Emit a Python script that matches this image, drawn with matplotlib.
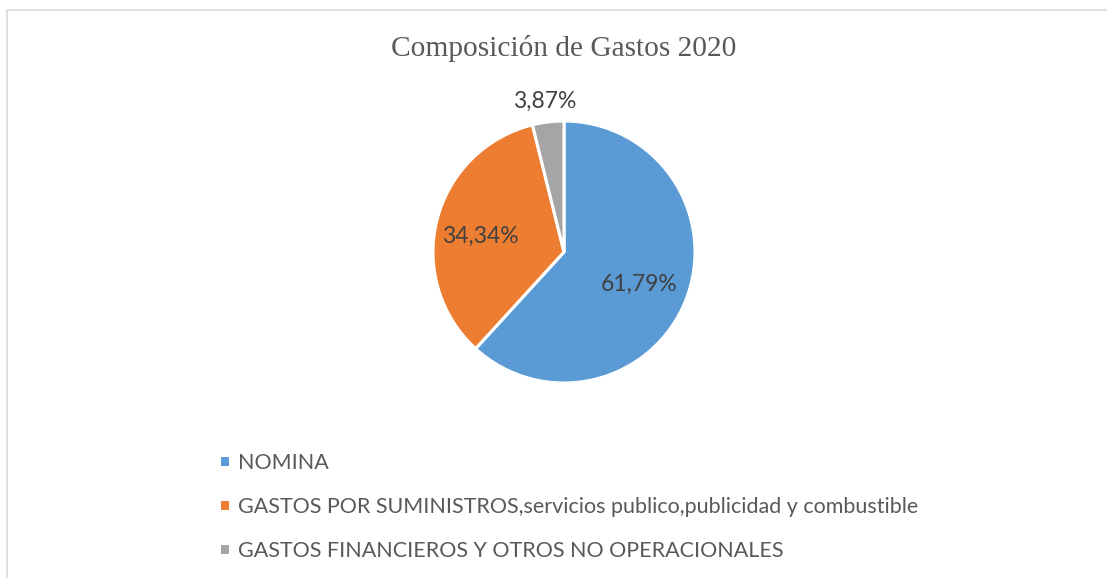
import matplotlib.pyplot as plt
from matplotlib.patches import Rectangle

categorias = ['NOMINA',
              'GASTOS POR SUMINISTROS,servicios publico,publicidad y combustible',
              'GASTOS FINANCIEROS Y OTROS NO OPERACIONALES']
porcentajes = [61.79, 34.34, 3.87]
colores = ['#5b9bd5', '#ed7d31', '#a5a5a5']
etiquetas = ['61,79%', '34,34%', '3,87%']

fig = plt.figure(figsize=(11.07, 5.78), dpi=100)
fig.patch.set_facecolor('white')

# marco del grafico (se sale por la derecha y por abajo)
fig.patches.append(Rectangle((7 / 1107, -0.1), 1.2, 1 - 10 / 578 + 0.1,
                             transform=fig.transFigure, fill=False,
                             edgecolor='#d9d9d9', lw=1.2))

# pie: centro (564, 252), radio 131 px
r = 131
cx, cy = 564, 578 - 252
ax = fig.add_axes([(cx - r) / 1107, (cy - r) / 578, 2 * r / 1107, 2 * r / 578])
wedges, _ = ax.pie(porcentajes, colors=colores, startangle=90, counterclock=False,
                   wedgeprops=dict(edgecolor='white', linewidth=2.2))
ax.set_xlim(-1, 1)
ax.set_ylim(-1, 1)
ax.set_aspect('equal')
ax.axis('off')

# etiquetas de datos
lab_pos = [(0.57, -0.25), (-0.64, 0.12), (-0.145, 1.153)]
for (x, y), t in zip(lab_pos, etiquetas):
    ax.text(x, y, t, ha='center', va='center', fontsize=16.5,
            family='Lato', color='#404040', clip_on=False)

fig.text(564 / 1107, 1 - 48 / 578, 'Composición de Gastos 2020', ha='center',
         va='center', fontsize=21.2, family='Liberation Serif', color='#595959')

leg = fig.legend(wedges, categorias, loc='upper left',
                 bbox_to_anchor=(208 / 1107, 1 - 442 / 578), frameon=False,
                 prop=dict(family='Lato', size=15.5), labelcolor='#595959',
                 handlelength=0.5, handleheight=0.5, handletextpad=0.4,
                 labelspacing=1.12, borderpad=0)

fig.savefig('out.png', dpi=100)
